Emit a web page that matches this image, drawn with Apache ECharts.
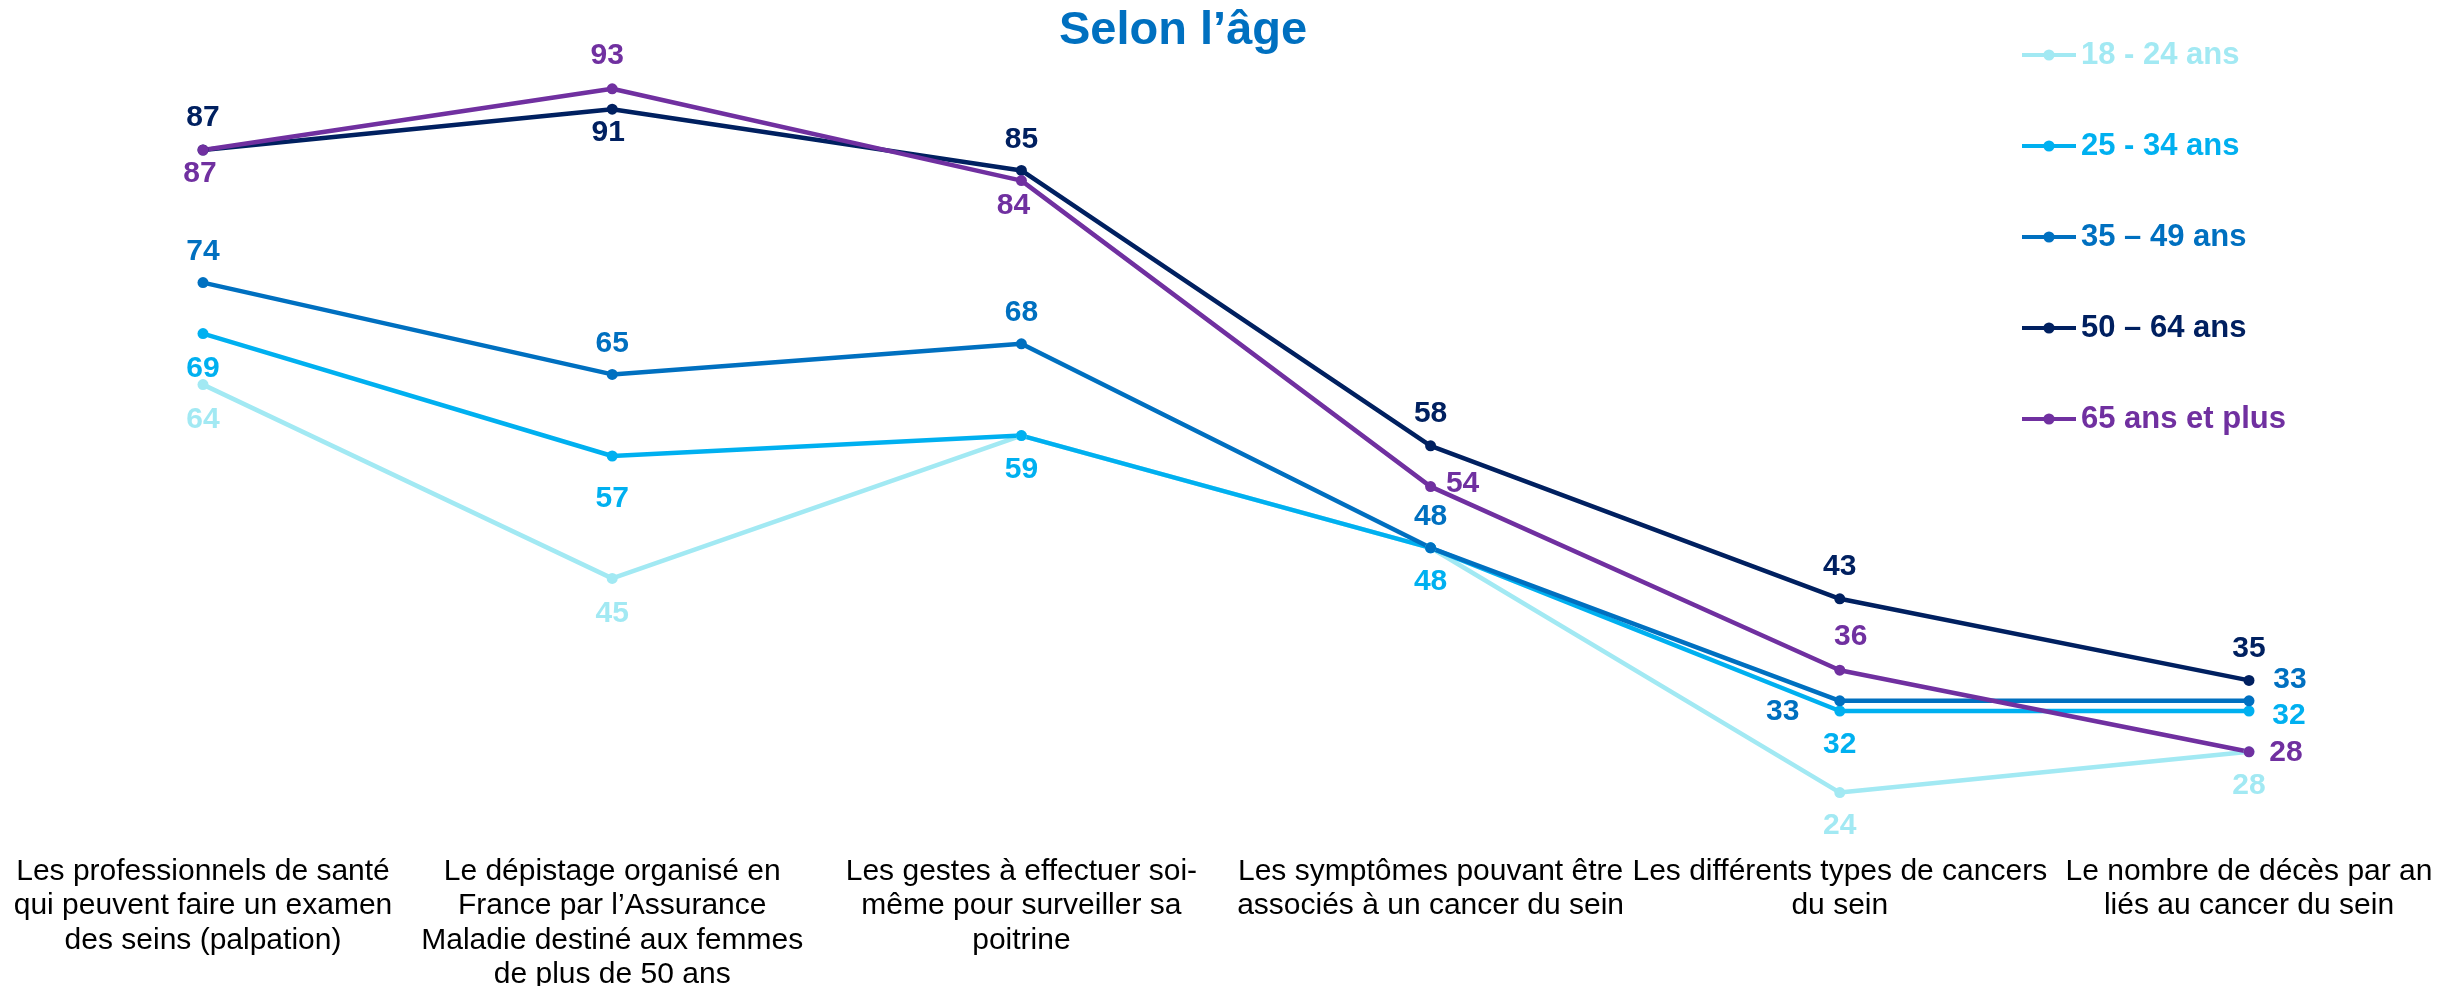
<!DOCTYPE html>
<html>
<head>
<meta charset="utf-8">
<title>Selon l'âge</title>
<script src="https://cdn.jsdelivr.net/npm/echarts@6.0.0/dist/echarts.min.js"></script>
<style>
  html, body { margin: 0; padding: 0; background: #fff; }
  #chart { width: 2453px; height: 986px; }
</style>
</head>
<body>
<div id="chart"></div>
<script>
var categories = [
  "Les professionnels de santé\nqui peuvent faire un examen\ndes seins (palpation)",
  "Le dépistage organisé en\nFrance par l’Assurance\nMaladie destiné aux femmes\nde plus de 50 ans",
  "Les gestes à effectuer soi-\nmême pour surveiller sa\npoitrine",
  "Les symptômes pouvant être\nassociés à un cancer du sein",
  "Les différents types de cancers\ndu sein",
  "Le nombre de décès par an\nliés au cancer du sein"
];
var ages = ["18 - 24 ans", "25 - 34 ans", "35 – 49 ans", "50 – 64 ans", "65 ans et plus"];
var age18_24 = [64, 45, 59, 48, 24, 28];
var age25_34 = [69, 57, 59, 48, 32, 32];
var age35_49 = [74, 65, 68, 48, 33, 33];
var age50_64 = [87, 91, 85, 58, 43, 35];
var age65plus = [87, 93, 84, 54, 36, 28];

var colors = ["#a2e9f3", "#00b0f0", "#0070c0", "#002060", "#7030a0"];
var font = "'Liberation Sans', Arial, sans-serif";

// décalage des étiquettes [dx, dy] par point, null = pas d'étiquette
var labelOffsets = [
  [[0, 35], [0, 35], null, null, [0, 33], [0, 34]],
  [[0, 35], [0, 43], [0, 34], [0, 34], [0, 34], [40, 5]],
  [[0, -31], [0, -31], [0, -31], [0, -31], [-57, 11], [41, -21]],
  [[0, -32], [-4, 24], [0, -31], [0, -32], [0, -32], [0, -32]],
  [[-3, 24], [-5, -33], [-8, 25], [32, -3], [11, -33], [37, 1]]
];

function buildData(values, offsets) {
  return values.map(function (v, i) {
    if (offsets[i] === null) {
      return { value: v, label: { show: false } };
    }
    return { value: v, label: { offset: offsets[i] } };
  });
}

var allValues = [age18_24, age25_34, age35_49, age50_64, age65plus];

var myChart = echarts.init(document.getElementById("chart"));
var Option = {
  backgroundColor: "#fff",
  animation: false,
  title: {
    text: "Selon l’âge",
    left: 1054,
    top: 3,
    textStyle: {
      color: "#0070c0",
      fontSize: 47,
      fontWeight: "bold",
      fontFamily: font
    }
  },
  legend: {
    orient: "vertical",
    left: 2015,
    top: 32,
    itemWidth: 54,
    itemHeight: 14,
    itemGap: 55,
    lineStyle: { width: 4 },
    data: ages.map(function (name, i) {
      return { name: name, textStyle: { color: colors[i] } };
    }),
    textStyle: {
      fontSize: 31,
      fontWeight: "bold",
      fontFamily: font,
      lineHeight: 36
    }
  },
  grid: {
    left: 203,
    right: 204,
    top: 17.4,
    bottom: 152.6,
    outerBoundsMode: "none"
  },
  xAxis: {
    type: "category",
    boundaryGap: false,
    data: categories,
    axisLine: { show: false },
    axisTick: { show: false },
    splitLine: { show: false },
    axisLabel: {
      interval: 0,
      margin: 21,
      color: "#000",
      fontSize: 30,
      lineHeight: 34.5,
      fontFamily: font
    }
  },
  yAxis: {
    type: "value",
    min: 20,
    max: 100,
    show: false
  },
  series: ages.map(function (name, i) {
    return {
      name: name,
      type: "line",
      symbol: "circle",
      symbolSize: 11,
      color: colors[i],
      lineStyle: { width: 4.5, color: colors[i] },
      itemStyle: { color: colors[i] },
      label: {
        show: true,
        position: "inside",
        color: colors[i],
        fontSize: 30,
        fontWeight: "bold",
        fontFamily: font
      },
      data: buildData(allValues[i], labelOffsets[i])
    };
  })
};
myChart.setOption(Option);
</script>
</body>
</html>
